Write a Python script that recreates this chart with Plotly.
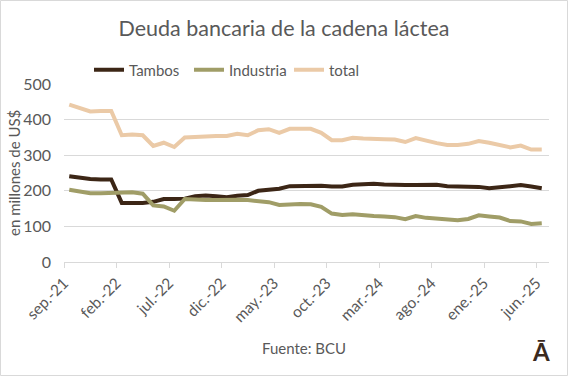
import plotly.graph_objects as go

# ---- data ----
months = ["sep.-21", "oct.-21", "nov.-21", "dic.-21", "ene.-22", "feb.-22", "mar.-22", "abr.-22",
          "may.-22", "jun.-22", "jul.-22", "ago.-22", "sep.-22", "oct.-22", "nov.-22", "dic.-22",
          "ene.-23", "feb.-23", "mar.-23", "abr.-23", "may.-23", "jun.-23", "jul.-23", "ago.-23",
          "sep.-23", "oct.-23", "nov.-23", "dic.-23", "ene.-24", "feb.-24", "mar.-24", "abr.-24",
          "may.-24", "jun.-24", "jul.-24", "ago.-24", "sep.-24", "oct.-24", "nov.-24", "dic.-24",
          "ene.-25", "feb.-25", "mar.-25", "abr.-25", "may.-25", "jun.-25"]

tambos = [241, 237, 233, 232, 232, 166, 166, 166, 169, 177, 177, 178, 185, 187, 185, 182,
          186, 188, 200, 203, 206, 213, 213, 215, 214, 212, 212, 217, 219, 220, 218, 216,
          216, 216, 217, 217, 213, 212, 211, 211, 207, 210, 215, 216, 212, 207]

industria = [203, 199, 193, 193, 194, 196, 196, 192, 159, 156, 144, 177, 175, 174, 174, 175,
             175, 174, 172, 168, 160, 162, 163, 162, 155, 136, 132, 134, 131, 129, 128, 126,
             120, 129, 124, 121, 118, 117, 121, 131, 128, 125, 115, 114, 107, 109]

total = [442, 431, 423, 424, 424, 356, 358, 356, 326, 335, 323, 350, 352, 353, 354, 354,
         360, 356, 370, 373, 363, 374, 374, 374, 363, 342, 342, 349, 347, 345, 345, 344,
         337, 348, 340, 334, 329, 329, 332, 340, 335, 329, 322, 327, 316, 316]

tick_labels = months[::5]
y_ticks = [0, 100, 200, 300, 400, 500]

# ---- layout helpers ----
W, H = 568, 376
L, R, T, B = 64, 19, 84, 114
PW, PH = W - L - R, H - T - B


def px(x):
    return (x - L) / PW


def py(y):
    return (H - B - y) / PH


# month positions: each monthly value sits in the middle of its month
xpos = [i + 0.5 for i in range(len(months))]
tick_pos = [i for i in range(0, len(months), 5)]

FONT = "Lato, Carlito, 'Open Sans', sans-serif"
GRAY = "#595959"
GRID = "#d9d9d9"

fig = go.Figure()
series = [("Tambos", tambos, "#3c2616"),
          ("Industria", industria, "#a09d67"),
          ("total", total, "#ebcaa7")]
for name, vals, col in series:
    fig.add_trace(go.Scatter(x=xpos, y=vals, name=name, mode="lines",
                             line=dict(color=col, width=4)))

fig.update_layout(
    width=W, height=H,
    margin=dict(l=L, r=R, t=T, b=B, autoexpand=False),
    paper_bgcolor="white", plot_bgcolor="white",
    font=dict(family=FONT, color=GRAY, size=15),
    title=dict(text="Deuda bancaria de la cadena láctea", x=0.5, xanchor="center",
               xref="container", yref="container", y=1 - 28 / H, yanchor="middle",
               font=dict(size=21.5, color=GRAY, family=FONT)),
    showlegend=True,
    legend=dict(orientation="h", x=px(89), xanchor="left", y=py(70), yanchor="middle",
                font=dict(size=15, color=GRAY), bgcolor="rgba(0,0,0,0)",
                entrywidth=55, entrywidthmode="pixels", itemclick=False),
    xaxis=dict(range=[0, (549 - L) / 10.5], tickvals=tick_pos, ticktext=tick_labels,
               tickangle=-45, showgrid=False, zeroline=False, showline=True,
               linecolor=GRID, linewidth=1, ticks="outside", ticklen=5, tickcolor=GRID,
               tickfont=dict(size=15.5, color=GRAY)),
    yaxis=dict(range=[0, 500], tickvals=y_ticks, showgrid=True, gridcolor=GRID,
               gridwidth=1, zeroline=False, showline=False, ticks="",
               ticklabelstandoff=12, tickfont=dict(size=16, color=GRAY)),
)

fig.add_annotation(text="en millones de US$", x=px(14), y=0.5, xref="paper", yref="paper",
                   textangle=-90, showarrow=False, font=dict(size=15, color=GRAY),
                   xanchor="center", yanchor="middle")
fig.add_annotation(text="Fuente: BCU", x=px(304), y=py(348), xref="paper", yref="paper",
                   showarrow=False, font=dict(size=15, color=GRAY),
                   xanchor="center", yanchor="middle")
fig.add_annotation(text="<b>Ā</b>", x=px(541), y=py(351), xref="paper", yref="paper",
                   showarrow=False, font=dict(size=24, color="#3b2a1e", family=FONT),
                   xanchor="center", yanchor="middle")

# outer chart border
fig.add_shape(type="rect", xref="paper", yref="paper",
              x0=px(0.5), x1=px(W - 0.5), y0=py(H - 0.5), y1=py(0.5),
              line=dict(color=GRID, width=1), fillcolor="rgba(0,0,0,0)", layer="below")

fig.write_html("out.html", config={"displayModeBar": False},
               post_script="document.body.style.margin='0';")
